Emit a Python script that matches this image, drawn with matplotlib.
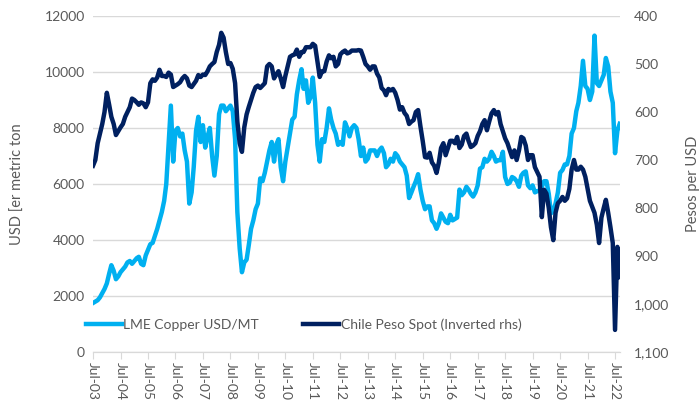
import numpy as np
import matplotlib
matplotlib.use('Agg')
import matplotlib.pyplot as plt
import matplotlib.dates as mdates
from matplotlib.ticker import FuncFormatter
import pandas as pd

plt.rcParams['font.family'] = ['Lato', 'DejaVu Sans']

# monthly readings, Jul-2003 .. Sep-2022
copper = [
    1750, 1800, 1850, 1950, 2100, 2250,                                    # 2003
    2450, 2800, 3100, 2900, 2600, 2700, 2850, 2950, 3050, 3200, 3250, 3150,  # 2004
    3250, 3350, 3400, 3150, 3100, 3450, 3650, 3850, 3900, 4150, 4400, 4700,  # 2005
    5000, 5400, 6000, 7400, 8800, 6800, 7900, 8000, 7700, 7800, 7200, 6800,  # 2006
    5300, 5700, 6600, 7900, 8400, 7500, 8100, 7300, 7700, 8000, 7000, 6300,  # 2007
    7000, 8500, 8800, 8800, 8600, 8700, 8800, 8600, 7600, 5000, 3700, 2850,  # 2008
    3200, 3300, 3800, 4400, 4700, 5100, 5300, 6200, 6100, 6400, 6800, 7200,  # 2009
    7500, 6800, 7400, 7600, 6600, 6100, 6800, 7300, 7800, 8300, 8400, 9200,  # 2010
    9700, 10100, 9400, 9700, 8900, 9100, 9800, 8900, 7400, 6800, 7600, 7500,  # 2011
    8000, 8700, 8300, 8000, 7800, 7400, 7500, 7400, 8200, 8000, 7700, 8000,  # 2012
    8100, 8000, 7600, 7000, 7300, 6800, 6900, 7200, 7200, 7200, 7000, 7200,  # 2013
    7300, 7100, 6600, 6700, 6900, 6800, 7100, 7000, 6800, 6700, 6600, 6300,  # 2014
    5500, 5700, 5900, 6100, 6350, 5800, 5400, 5100, 5200, 5200, 4700, 4600,  # 2015
    4400, 4600, 4950, 4800, 4650, 4600, 4900, 4700, 4750, 4800, 5800, 5600,  # 2016
    5700, 5900, 5800, 5650, 5550, 5700, 5950, 6550, 6600, 6900, 6800, 6900,  # 2017
    7150, 7000, 6800, 6850, 6850, 7150, 6250, 6000, 6050, 6250, 6200, 6100,  # 2018
    5900, 6300, 6400, 6450, 5950, 5850, 5950, 5700, 5750, 5750, 5900, 6100,  # 2019
    6100, 5650, 4950, 5050, 5300, 5700, 6400, 6500, 6700, 6700, 7000, 7800,  # 2020
    8000, 8600, 8900, 9500, 10400, 9500, 9400, 9000, 9300, 11300, 9600, 9500,  # 2021
    9700, 9900, 10500, 10200, 9300, 8900, 7100, 7900, 8150,                  # 2022
]

peso = [
    712, 700, 665, 645, 625, 600,                                      # 2003
    560, 585, 610, 625, 648, 640, 632, 625, 610, 600, 590, 572,        # 2004
    575, 580, 585, 580, 582, 590, 580, 540, 532, 535, 528, 512,        # 2005
    525, 525, 527, 518, 522, 548, 545, 542, 538, 530, 525, 530,        # 2006
    545, 548, 542, 535, 523, 527, 522, 523, 515, 505, 500, 496,        # 2007
    475, 460, 435, 445, 475, 500, 498, 510, 540, 620, 665, 683,        # 2008
    632, 605, 590, 575, 560, 548, 545, 550, 545, 540, 505, 500,        # 2009
    505, 530, 522, 515, 530, 548, 525, 505, 485, 482, 480, 470,        # 2010
    485, 475, 475, 465, 465, 465, 458, 462, 495, 527, 515, 515,        # 2011
    495, 482, 488, 485, 505, 500, 480, 475, 472, 478, 476, 472,        # 2012
    472, 472, 471, 472, 485, 500, 505, 512, 505, 505, 520, 528,        # 2013
    550, 555, 565, 552, 555, 552, 560, 575, 595, 590, 602, 608,        # 2014
    625, 620, 617, 600, 596, 630, 660, 694, 695, 685, 705, 712,        # 2015
    727, 705, 675, 665, 690, 675, 660, 660, 665, 652, 675, 668,        # 2016
    650, 645, 660, 673, 670, 665, 650, 640, 625, 617, 638, 620,        # 2017
    603, 596, 605, 600, 625, 640, 655, 665, 680, 694, 680, 700,        # 2018
    680, 652, 655, 670, 700, 690, 690, 715, 725, 735, 819, 762,        # 2019
    770, 800, 840, 867, 810, 790, 785, 777, 785, 780, 760, 720,        # 2020
    700, 720, 720, 714, 720, 735, 760, 785, 798, 810, 835, 873,        # 2021
    820, 800, 783, 810, 840, 873, 1054, 881, 944,                      # 2022
]

months = pd.date_range('2003-07-01', periods=len(copper), freq='MS')
tick_years = list(range(2003, 2023))

copper_color = '#00B0F0'
peso_color = '#002060'
text_color = '#595959'
grid_color = '#D9D9D9'

fig = plt.figure(figsize=(7, 4.08), dpi=100)
ax = fig.add_axes([93 / 700, 56 / 408, 527 / 700, 336 / 408])

ax.plot(months, copper, color=copper_color, lw=3.2, label='LME Copper USD/MT')
ax.set_ylim(0, 12000)
ax.set_yticks(np.arange(0, 12001, 2000))
ax.grid(axis='y', color=grid_color, lw=1)
ax.set_axisbelow(True)
ax.set_ylabel('USD [er metric ton', color=text_color, fontsize=10.5, labelpad=14)

ax2 = ax.twinx()
ax2.plot(months, peso, color=peso_color, lw=3.2, label='Chile Peso Spot (Inverted rhs)')
ax2.set_ylim(1100, 400)
ax2.set_yticks(np.arange(400, 1101, 100))
ax2.yaxis.set_major_formatter(FuncFormatter(lambda v, p: f'{int(v):,}'))
ax2.set_ylabel('Pesos per USD', color=text_color, fontsize=10.5, labelpad=12)

ax.set_xlim(pd.Timestamp('2003-07-01'), pd.Timestamp('2022-09-05'))
ax.set_xticks([pd.Timestamp(f'{y}-07-01') for y in tick_years])
ax.xaxis.set_major_formatter(mdates.DateFormatter('%b-%y'))
for lbl in ax.get_xticklabels():
    lbl.set_rotation(270)

for a in (ax, ax2):
    for s in ('top', 'left', 'right'):
        a.spines[s].set_visible(False)
    a.spines['bottom'].set_color(grid_color)
    a.tick_params(axis='y', length=0, labelsize=10, colors=text_color, pad=6)
ax.tick_params(axis='x', length=5, color=grid_color, labelsize=10, colors=text_color, pad=2)
ax.tick_params(axis='x', color=grid_color)
ax2.tick_params(axis='y', pad=10)

h1, l1 = ax.get_legend_handles_labels()
h2, l2 = ax2.get_legend_handles_labels()
fig.legend(h1 + h2, l1 + l2, loc='center left', bbox_to_anchor=(80 / 700, 1 - 325 / 408),
           ncol=2, frameon=False, fontsize=10, handlelength=2.6, handletextpad=0.1,
           columnspacing=3.2, labelcolor=text_color, borderaxespad=0)

fig.savefig('out.png', dpi=100)
